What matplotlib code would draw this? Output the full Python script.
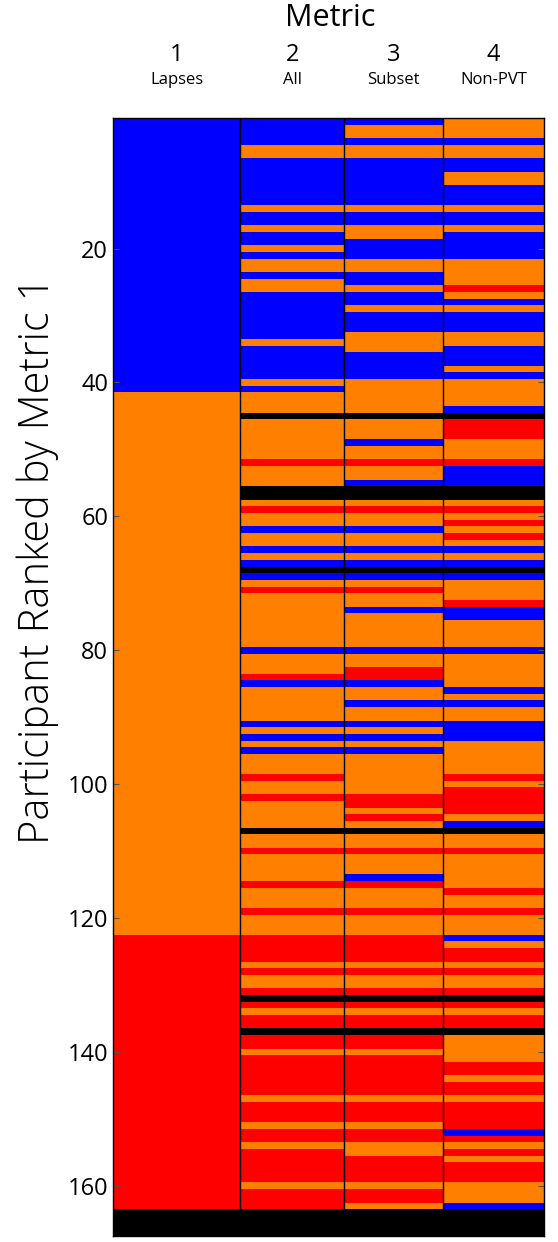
import numpy as np
import matplotlib
matplotlib.use('Agg')
import matplotlib.pyplot as plt
from matplotlib.colors import ListedColormap, BoundaryNorm

plt.rcParams['font.family'] = ['Open Sans', 'DejaVu Sans']

metric_nums = ['1', '2', '3', '4']
metric_names = ['Lapses', 'All', 'Subset', 'Non-PVT']
yticks = [20, 40, 60, 80, 100, 120, 140, 160]

# one letter per participant (rank 1..167): B=blue, O=orange, R=red, K=black
lapses = ''.join([
    'BBBBBBBBBB', 'BBBBBBBBBB', 'BBBBBBBBBB', 'BBBBBBBBBB',
    'BOOOOOOOOO', 'OOOOOOOOOO', 'OOOOOOOOOO', 'OOOOOOOOOO',
    'OOOOOOOOOO', 'OOOOOOOOOO', 'OOOOOOOOOO', 'OOOOOOOOOO',
    'OORRRRRRRR', 'RRRRRRRRRR', 'RRRRRRRRRR', 'RRRRRRRRRR',
    'RRRKKKK'])
all_metric = ''.join([
    'BBBBOOBBBB', 'BBBOBBOBBO', 'BOOBOOBBBB', 'BBBOBBBBBO',
    'BOOOKOOOOO', 'OROOOKKORO', 'OBOOBOBKBO', 'ROOOOOOOOB',
    'OOORBOOOOO', 'BOBOBOOORO', 'OROOOOKOOR', 'OOOOROOORO',
    'OORRRROROO', 'RKRORRKRRO', 'RRRRRRORRR', 'ORRORRRRRO',
    'RRRKKKK'])
subset = ''.join([
    'BOOBOOBBBB', 'BBBOBBOOBB', 'BOOBBOBBOB', 'BBOOOBBBBO',
    'OOOOKOOOBO', 'OROOBKKORO', 'OBOOBOBKBO', 'ROOBOOOOOB',
    'OORRBOOBOO', 'BOBOBOOOOO', 'ORROROKOOR', 'OOOBROOORO',
    'OORRRROROO', 'RKRORRKRRO', 'RRRRRRORRR', 'ORROORRRRO',
    'RROKKKK'])
non_pvt = ''.join([
    'OOOBOOBBOO', 'BBBOBBOBBB', 'BOOOOROBOB', 'BBOOBBBOBO',
    'OOOBKRRROO', 'ORBBBKKORO', 'ROROBOBKBO', 'OORBBOOOOB',
    'OOOOOBOBOO', 'BBBOOOOORO', 'RRRROBKOOR', 'OOOOOROORO',
    'OOBORROROO', 'RKRORRKOOO', 'ORRORRORRR', 'RBRORORRRO',
    'OOBKKKK'])

codes = {'B': 0, 'O': 1, 'R': 2, 'K': 3}
grid = np.array([[codes[c] for c in col]
                 for col in [lapses, all_metric, subset, non_pvt]]).T
n = grid.shape[0]

cmap = ListedColormap(['#0000ff', '#ff8000', '#ff0000', '#000000'])
norm = BoundaryNorm([-0.5, 0.5, 1.5, 2.5, 3.5], cmap.N)

# first column is drawn wider than the others
xedges = np.array([0, 1.26, 2.29, 3.27, 4.27])
yedges = np.arange(n + 1) + 0.5

fig = plt.figure(figsize=(5.58, 12.42), dpi=100)
W, H = 558, 1242
ax = fig.add_axes([113 / W, 1 - 1236 / H, (544 - 113) / W, (1236 - 118) / H])
ax.pcolormesh(xedges, yedges, grid, cmap=cmap, norm=norm, shading='flat')
for x in xedges[1:-1]:
    ax.axvline(x, color='k', lw=1)
ax.set_xlim(xedges[0], xedges[-1])
ax.set_ylim(yedges[-1], yedges[0])
ax.set_xticks([])
ax.set_yticks(yticks)
ax.tick_params(axis='y', direction='in', right=True, length=4,
               color='#555555', labelsize=17)
for s in ax.spines.values():
    s.set_color('k')
    s.set_linewidth(1)

centers = (xedges[:-1] + xedges[1:]) / 2
for cx, num, name in zip(centers, metric_nums, metric_names):
    fx = (113 + cx / xedges[-1] * (544 - 113)) / W
    fig.text(fx, 1 - 55 / H, num, ha='center', va='center', fontsize=17)
    fig.text(fx, 1 - 80 / H, name, ha='center', va='center', fontsize=12)

fig.text(330 / W, 1 - 18 / H, 'Metric', ha='center', va='center', fontsize=22)
fig.text(38 / W, 1 - 560 / H, 'Participant Ranked by Metric 1', rotation=90,
         ha='center', va='center', fontsize=30, fontweight='light')

fig.savefig('out.png', dpi=100)
